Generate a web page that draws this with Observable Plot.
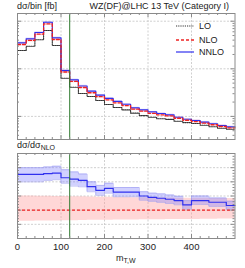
<!DOCTYPE html>
<html><head><meta charset="utf-8">
<script src="https://cdn.jsdelivr.net/npm/d3@7"></script>
<script src="https://cdn.jsdelivr.net/npm/@observablehq/plot@0.6"></script>
<style>
body{margin:0;background:#fff;}
#chart{position:relative;width:245px;height:268px;font-family:"Liberation Sans",Arial,sans-serif;color:#222;overflow:hidden;}
#chart svg.plot{position:absolute;left:0;}
.t{position:absolute;font-size:9px;white-space:nowrap;line-height:1;color:#222;}
sub{font-size:7px;vertical-align:-2px;line-height:0;}
</style></head><body><div id="chart"></div>
<script>
// ---- data ----
const binStart = [0,20,40,60,80,100,120,140,160,180,200,220,240,260,280,300,320,340,360,380,400,420,440,460,480];
const binEnd = 500;
const lo   = [242,298,407,638,309,63.5,41,30.3,26.2,21.6,17.8,15.4,13.7,11.7,10.4,9.6,8.9,8.65,7.9,7.4,7.1,6.5,6.05,5.65,5.36];
const nlo  = [324,394,534,877,413,85.6,54.6,40.5,31.4,26.0,22.3,19.3,16.9,14.2,12.9,11.6,10.8,10.3,9.15,8.3,7.8,7.2,6.67,6.13,5.76];
const nnlo = [352,427,579,952,448,92,58.7,43.5,33.8,27.9,23.8,20.6,18.0,15.1,13.7,12.4,11.5,10.8,9.6,8.7,8.2,7.55,7.0,6.44,6.05];
const ratioNNLO     = [1.252,1.252,1.252,1.258,1.262,1.229,1.219,1.21,1.166,1.14,1.154,1.128,1.128,1.128,1.10,1.091,1.084,1.077,1.068,1.037,1.068,1.068,1.056,1.056,1.033];
const ratioNNLOUp   = [1.30,1.30,1.30,1.305,1.31,1.285,1.27,1.255,1.20,1.175,1.19,1.16,1.16,1.16,1.13,1.12,1.115,1.107,1.098,1.067,1.10,1.10,1.086,1.086,1.063];
const ratioNNLODown = [1.20,1.20,1.20,1.21,1.215,1.19,1.17,1.165,1.13,1.105,1.12,1.095,1.095,1.095,1.07,1.062,1.055,1.047,1.038,1.007,1.04,1.04,1.026,1.026,1.003];
const ratioNLOUp    = [1.100,1.100,1.099,1.098,1.097,1.096,1.095,1.094,1.093,1.092,1.091,1.090,1.089,1.088,1.088,1.087,1.086,1.086,1.085,1.085,1.084,1.084,1.083,1.083,1.082];
const ratioNLODown  = [0.922,0.922,0.923,0.923,0.924,0.925,0.926,0.927,0.928,0.929,0.929,0.930,0.931,0.931,0.932,0.933,0.933,0.934,0.934,0.935,0.935,0.936,0.936,0.937,0.937];
const xTicks = [0,100,200,300,400];
const xMinor = [20,40,60,80,120,140,160,180,220,240,260,280,320,340,360,380,420,440,460,480];
const yMajorTop = [10,100,1000];
const yMinorTop = [4,5,6,7,8,9,20,30,40,50,60,70,80,90,200,300,400,500,600,700,800,900];
const yMajorRatio = [0.9,1.0,1.1,1.2,1.3];
const yMinorRatio = [0.82,0.84,0.86,0.88,0.92,0.94,0.96,0.98,1.02,1.04,1.06,1.08,1.12,1.14,1.16,1.18,1.22,1.24,1.26,1.28,1.32,1.34,1.36,1.38];
const cutValue = 120;
const title = "WZ(DF)@LHC 13 TeV (Category I)";

// ---- helpers ----
const steps = (vals) => binStart.map((x,i)=>({x, y: vals[i]})).concat([{x: binEnd, y: vals[vals.length-1]}]);
const bands = (a, b) => binStart.map((x,i)=>({x, y1: a[i], y2: b[i]})).concat([{x: binEnd, y1: a[a.length-1], y2: b[b.length-1]}]);

const W = 245, mL = 17, mR = 10.5;
const iw = W - mL - mR;
const cLO = "#333", cNLO = "#ee2222", cNNLO = "#3030ee", cCut = "#2f7a2f", cFrame = "#8a8a8a";

function frameTicks(h, xMaj, xMin, yMaj, yMin) {
  const s = {stroke: cFrame, strokeWidth: 1};
  return [
    Plot.tickX(xMaj, {x: d=>d, insetBottom: h-4, ...s}),
    Plot.tickX(xMaj, {x: d=>d, insetTop: h-4, ...s}),
    Plot.tickX(xMin, {x: d=>d, insetBottom: h-2, ...s}),
    Plot.tickX(xMin, {x: d=>d, insetTop: h-2, ...s}),
    Plot.tickY(yMaj, {y: d=>d, insetRight: iw-4, ...s}),
    Plot.tickY(yMaj, {y: d=>d, insetLeft: iw-4, ...s}),
    Plot.tickY(yMin, {y: d=>d, insetRight: iw-2, ...s}),
    Plot.tickY(yMin, {y: d=>d, insetLeft: iw-2, ...s})
  ];
}

const grid = {stroke: "#c4c4c4", strokeDasharray: "2,1.5", strokeOpacity: 1, strokeWidth: 0.8};

// ---- top panel ----
const topH = 140, topMT = 13, topMB = 1;
const topIH = topH - topMT - topMB;
const nnloUpAbs = nnlo.map((v,i)=> v * ratioNNLOUp[i] / ratioNNLO[i]);
const nnloDownAbs = nnlo.map((v,i)=> v * ratioNNLODown[i] / ratioNNLO[i]);
const nloUpAbs = nlo.map((v,i)=> v * ratioNLOUp[i]);
const nloDownAbs = nlo.map((v,i)=> v * ratioNLODown[i]);

const topPlot = Plot.plot({
  width: W, height: topH, marginLeft: mL, marginRight: mR, marginTop: topMT, marginBottom: topMB,
  style: {fontFamily: "Liberation Sans, Arial, sans-serif", background: "transparent"},
  x: {domain: [0, 500], axis: null},
  y: {type: "log", domain: [3.27, 1452], axis: null},
  marks: [
    Plot.gridX(xTicks.slice(1), grid),
    Plot.gridY(yMajorTop, grid),
    Plot.areaY(bands(nloDownAbs, nloUpAbs), {x: "x", y1: "y1", y2: "y2", curve: "step-after", fill: "#ff9a9a", fillOpacity: 0.22}),
    Plot.areaY(bands(nnloDownAbs, nnloUpAbs), {x: "x", y1: "y1", y2: "y2", curve: "step-after", fill: "#7b7bff", fillOpacity: 0.25}),
    Plot.line(steps(lo), {x: "x", y: "y", curve: "step-after", stroke: cLO, strokeWidth: 1.1, strokeDasharray: "1.2,1"}),
    Plot.line(steps(nnlo), {x: "x", y: "y", curve: "step-after", stroke: cNNLO, strokeWidth: 1.2}),
    Plot.line(steps(nlo), {x: "x", y: "y", curve: "step-after", stroke: cNLO, strokeWidth: 1.3, strokeDasharray: "3,2"}),
    Plot.ruleX([cutValue], {stroke: cCut, strokeWidth: 1}),
    ...frameTicks(topIH, xTicks, xMinor, yMajorTop, yMinorTop),
    Plot.frame({stroke: cFrame, strokeWidth: 1})
  ]
});
topPlot.style.top = "0px";

// ---- ratio panel ----
const botTop = 140, botH = 128, botMT = 13, botMB = 30;
const botIH = botH - botMT - botMB;
const botPlot = Plot.plot({
  width: W, height: botH, marginLeft: mL, marginRight: mR, marginTop: botMT, marginBottom: botMB,
  style: {fontFamily: "Liberation Sans, Arial, sans-serif", fontSize: "9.5px", background: "transparent", color: "#222"},
  x: {domain: [0, 500], axis: null},
  y: {domain: [0.8, 1.4], axis: null},
  marks: [
    Plot.gridX(xTicks.slice(1), grid),
    Plot.gridY(yMajorRatio, grid),
    Plot.areaY(bands(ratioNLODown, ratioNLOUp), {x: "x", y1: "y1", y2: "y2", curve: "step-after", fill: "#ff9a9a", fillOpacity: 0.4}),
    Plot.areaY(bands(ratioNNLODown, ratioNNLOUp), {x: "x", y1: "y1", y2: "y2", curve: "step-after", fill: "#7b7bff", fillOpacity: 0.35}),
    Plot.line(bands(ratioNNLODown, ratioNNLOUp), {x: "x", y: "y2", curve: "step-after", stroke: "#9a9af0", strokeWidth: 0.6}),
    Plot.line(bands(ratioNNLODown, ratioNNLOUp), {x: "x", y: "y1", curve: "step-after", stroke: "#9a9af0", strokeWidth: 0.6}),
    Plot.line(steps(ratioNNLO), {x: "x", y: "y", curve: "step-after", stroke: cNNLO, strokeWidth: 1.2}),
    Plot.ruleY([1], {stroke: cNLO, strokeWidth: 1.3, strokeDasharray: "3,2"}),
    Plot.ruleX([cutValue], {stroke: cCut, strokeWidth: 1}),
    ...frameTicks(botIH, xTicks, xMinor, [0.8,0.9,1.0,1.1,1.2,1.3,1.4], yMinorRatio),
    Plot.frame({stroke: cFrame, strokeWidth: 1}),
    Plot.axisX(xTicks, {anchor: "bottom", tickSize: 0, tickPadding: 5, label: null, fontSize: 9.5, fill: "#222"})
  ]
});
botPlot.style.top = botTop + "px";

const chart = document.getElementById("chart");
chart.appendChild(topPlot);
chart.appendChild(botPlot);

// ---- texts ----
function addText(html, left, top, extra) {
  const d = document.createElement("div");
  d.className = "t";
  d.innerHTML = html;
  d.style.left = left + "px";
  d.style.top = top + "px";
  if (extra) Object.assign(d.style, extra);
  chart.appendChild(d);
  return d;
}
addText("dσ/bin [fb]", 17, 2);
addText(title, 0, 2, {left: "auto", right: "16px"});
addText("dσ/dσ<sub>NLO</sub>", 17, 141);
addText("m<sub>T,W</sub>", 116, 254);

// legend
const legendItems = [
  {name: "LO", color: cLO, dash: "1.2,1", w: 1.1, y: 22},
  {name: "NLO", color: cNLO, dash: "3,2", w: 1.3, y: 35.5},
  {name: "NNLO", color: cNNLO, dash: null, w: 1.2, y: 48}
];
for (const it of legendItems) {
  const s = document.createElementNS("http://www.w3.org/2000/svg", "svg");
  s.setAttribute("width", 20); s.setAttribute("height", 6);
  s.style.position = "absolute"; s.style.left = "176px"; s.style.top = (it.y + 1) + "px";
  const l = document.createElementNS("http://www.w3.org/2000/svg", "line");
  l.setAttribute("x1", 0); l.setAttribute("x2", 18); l.setAttribute("y1", 3); l.setAttribute("y2", 3);
  l.setAttribute("stroke", it.color); l.setAttribute("stroke-width", it.w);
  if (it.dash) l.setAttribute("stroke-dasharray", it.dash);
  s.appendChild(l);
  chart.appendChild(s);
  addText(it.name, 199, it.y);
}
</script></body></html>
